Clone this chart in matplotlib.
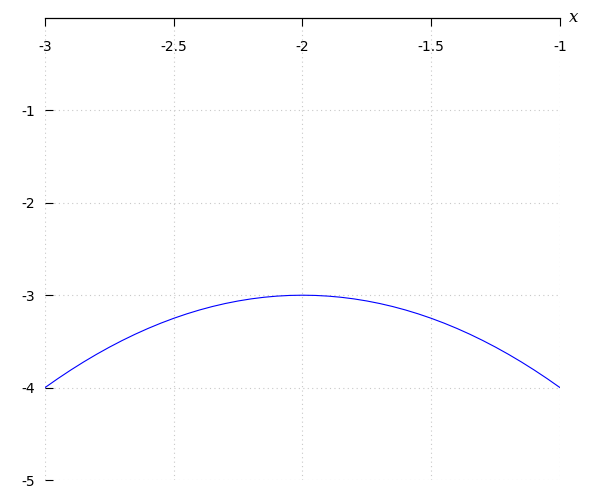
import matplotlib
matplotlib.use('Agg')
import matplotlib.pyplot as plt

plt.rcParams['axes.unicode_minus'] = False

# values
xs = [-3.0, -2.95, -2.9, -2.85, -2.8, -2.75, -2.7, -2.65, -2.6, -2.55, -2.5,
      -2.45, -2.4, -2.35, -2.3, -2.25, -2.2, -2.15, -2.1, -2.05, -2.0,
      -1.95, -1.9, -1.85, -1.8, -1.75, -1.7, -1.65, -1.6, -1.55, -1.5,
      -1.45, -1.4, -1.35, -1.3, -1.25, -1.2, -1.15, -1.1, -1.05, -1.0]
ys = [-4.0, -3.9025, -3.81, -3.7225, -3.64, -3.5625, -3.49, -3.4225, -3.36, -3.3025, -3.25,
      -3.2025, -3.16, -3.1225, -3.09, -3.0625, -3.04, -3.0225, -3.01, -3.0025, -3.0,
      -3.0025, -3.01, -3.0225, -3.04, -3.0625, -3.09, -3.1225, -3.16, -3.2025, -3.25,
      -3.3025, -3.36, -3.4225, -3.49, -3.5625, -3.64, -3.7225, -3.81, -3.9025, -4.0]
xticks = [-3, -2.5, -2, -1.5, -1]
xlabels = ['-3', '-2.5', '-2', '-1.5', '-1']
yticks = [-1, -2, -3, -4, -5]
ylabels = ['-1', '-2', '-3', '-4', '-5']

fig = plt.figure(figsize=(6, 5), dpi=100)
ax = fig.add_axes([0.075, 0.04, 0.8583, 0.924])

ax.plot(xs, ys, color='blue', lw=0.8)

ax.set_xlim(-3, -1)
ax.set_ylim(-5, 0)
ax.set_xticks(xticks)
ax.set_xticklabels(xlabels)
ax.set_yticks(yticks)
ax.set_yticklabels(ylabels)

for s in ['left', 'right', 'bottom']:
	ax.spines[s].set_visible(False)
ax.spines['top'].set_linewidth(0.9)

ax.xaxis.tick_top()
ax.tick_params(axis='x', direction='in', length=6, width=0.8, pad=-26, labelsize=10)
ax.tick_params(axis='y', direction='in', length=6, width=0.8, pad=7, labelsize=10)

ax.grid(True, color='#c8c8c8', linestyle=(0, (1, 3)), lw=0.8)

ax.text(1.018, 1.0, 'x', transform=ax.transAxes, fontsize=12, family='serif',
	style='italic', ha='left', va='center')

plt.savefig('out.png')
